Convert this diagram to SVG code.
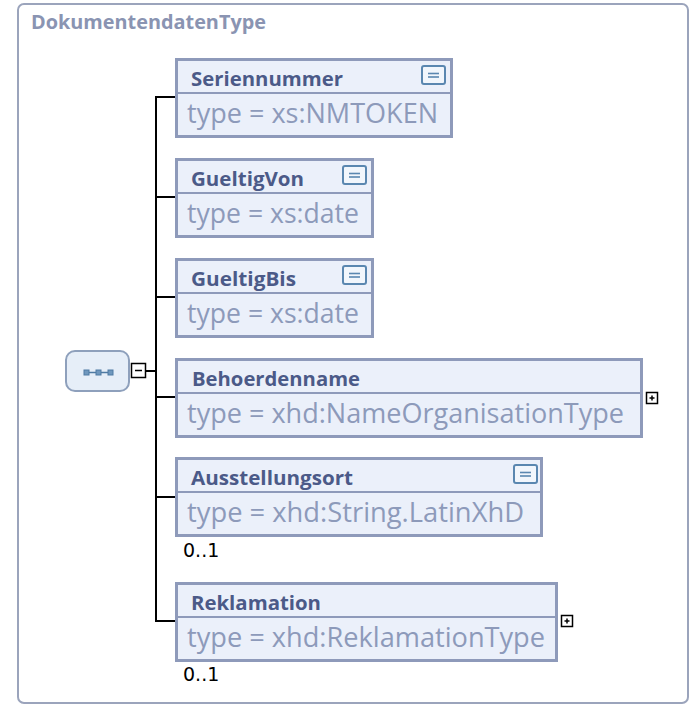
<svg xmlns="http://www.w3.org/2000/svg" width="695" height="708" viewBox="0 0 695 708">
<style>
.frame{fill:#ffffff;stroke:#9ba4bc;stroke-width:2}
.title{font-family:"Open Sans","Noto Sans",sans-serif;font-weight:700;font-size:20px;fill:#8a94b2}
.box{fill:#ebf0fa;stroke:#8e9aba;stroke-width:3}
.div{stroke:#8e9aba;stroke-width:2}
.name{font-family:"Open Sans","Noto Sans",sans-serif;font-weight:700;font-size:20px;fill:#4b5a88}
.type{font-family:"Open Sans","Noto Sans",sans-serif;font-size:28px;fill:#8d9aba}
.icon{fill:#f1f6fc;stroke:#5a87b0;stroke-width:2}
.iconline{stroke:#5a87b0;stroke-width:1.6}
.conn{stroke:#000;stroke-width:2;fill:none}
.tog{fill:#fff;stroke:#000;stroke-width:1.5}
.togline{stroke:#000;stroke-width:1.5}
.occ{font-family:"DejaVu Sans",sans-serif;font-size:19px;fill:#000}
.seq{fill:#e6eef8;stroke:#8ea0bc;stroke-width:2}
.seqdot{fill:#6f97bd;stroke:#4f7aa3;stroke-width:1}
</style>
<defs>
<g id="doc">
<rect class="icon" x="1" y="1" width="23" height="18" rx="2"/>
<line class="iconline" x1="7" y1="8.5" x2="18" y2="8.5"/>
<line class="iconline" x1="7" y1="12" x2="18" y2="12"/>
</g>
<g id="plus">
<rect class="tog" x="0" y="0" width="11" height="11"/>
<line class="togline" x1="3" y1="5.5" x2="8" y2="5.5"/>
<line class="togline" x1="5.5" y1="3" x2="5.5" y2="8"/>
</g>
</defs>
<rect class="frame" x="18" y="4" width="670" height="699" rx="6"/>
<text class="title" x="31" y="29" textLength="235" lengthAdjust="spacingAndGlyphs">DokumentendatenType</text>

<g id="connectors">
<line class="conn" x1="146" y1="371" x2="156" y2="371"/>
<line class="conn" x1="156" y1="97" x2="156" y2="622"/>
<line class="conn" x1="155" y1="97" x2="176" y2="97"/>
<line class="conn" x1="155" y1="197" x2="176" y2="197"/>
<line class="conn" x1="155" y1="297" x2="176" y2="297"/>
<line class="conn" x1="155" y1="397" x2="176" y2="397"/>
<line class="conn" x1="155" y1="497" x2="176" y2="497"/>
<line class="conn" x1="155" y1="621" x2="176" y2="621"/>
</g>

<g id="sequence">
<rect class="seq" x="66" y="351" width="63" height="40" rx="9"/>
<line x1="86" y1="372.5" x2="111" y2="372.5" stroke="#4f7aa3" stroke-width="1.5"/>
<rect class="seqdot" x="84" y="370" width="5" height="5"/>
<rect class="seqdot" x="96" y="370" width="5" height="5"/>
<rect class="seqdot" x="108" y="370" width="5" height="5"/>
<rect class="tog" x="131.5" y="363.5" width="14" height="14"/>
<line class="togline" x1="135" y1="370.5" x2="142" y2="370.5"/>
</g>

<g id="Seriennummer">
<rect class="box" x="176.5" y="59.5" width="275" height="77"/>
<line class="div" x1="178" y1="93" x2="450" y2="93"/>
<text class="name" x="191" y="86" textLength="152" lengthAdjust="spacingAndGlyphs">Seriennummer</text>
<text class="type" x="187" y="123" textLength="251" lengthAdjust="spacingAndGlyphs">type = xs:NMTOKEN</text>
<use href="#doc" x="421" y="65"/>
</g>

<g id="GueltigVon">
<rect class="box" x="176.5" y="159.5" width="196" height="77"/>
<line class="div" x1="178" y1="193" x2="371" y2="193"/>
<text class="name" x="191" y="186" textLength="113" lengthAdjust="spacingAndGlyphs">GueltigVon</text>
<text class="type" x="187" y="223" textLength="172" lengthAdjust="spacingAndGlyphs">type = xs:date</text>
<use href="#doc" x="342" y="165"/>
</g>

<g id="GueltigBis">
<rect class="box" x="176.5" y="259.5" width="196" height="77"/>
<line class="div" x1="178" y1="293" x2="371" y2="293"/>
<text class="name" x="191" y="286" textLength="105" lengthAdjust="spacingAndGlyphs">GueltigBis</text>
<text class="type" x="187" y="323" textLength="172" lengthAdjust="spacingAndGlyphs">type = xs:date</text>
<use href="#doc" x="342" y="265"/>
</g>

<g id="Behoerdenname">
<rect class="box" x="176.5" y="359.5" width="465" height="77"/>
<line class="div" x1="178" y1="393" x2="640" y2="393"/>
<text class="name" x="192" y="386" textLength="168" lengthAdjust="spacingAndGlyphs">Behoerdenname</text>
<text class="type" x="187" y="423" textLength="437" lengthAdjust="spacingAndGlyphs">type = xhd:NameOrganisationType</text>
<use href="#plus" x="646.5" y="392.5"/>
</g>

<g id="Ausstellungsort">
<rect class="box" x="176.5" y="458.5" width="365" height="77"/>
<line class="div" x1="178" y1="492" x2="540" y2="492"/>
<text class="name" x="191" y="485" textLength="162" lengthAdjust="spacingAndGlyphs">Ausstellungsort</text>
<text class="type" x="187" y="522" textLength="337" lengthAdjust="spacingAndGlyphs">type = xhd:String.LatinXhD</text>
<use href="#doc" x="513" y="464"/>
<text class="occ" x="183" y="557">0..1</text>
</g>

<g id="Reklamation">
<rect class="box" x="176.5" y="583.5" width="380" height="77"/>
<line class="div" x1="178" y1="617" x2="555" y2="617"/>
<text class="name" x="191" y="610" textLength="130" lengthAdjust="spacingAndGlyphs">Reklamation</text>
<text class="type" x="187" y="647" textLength="358" lengthAdjust="spacingAndGlyphs">type = xhd:ReklamationType</text>
<use href="#plus" x="561.5" y="615.5"/>
<text class="occ" x="183" y="681">0..1</text>
</g>
</svg>
